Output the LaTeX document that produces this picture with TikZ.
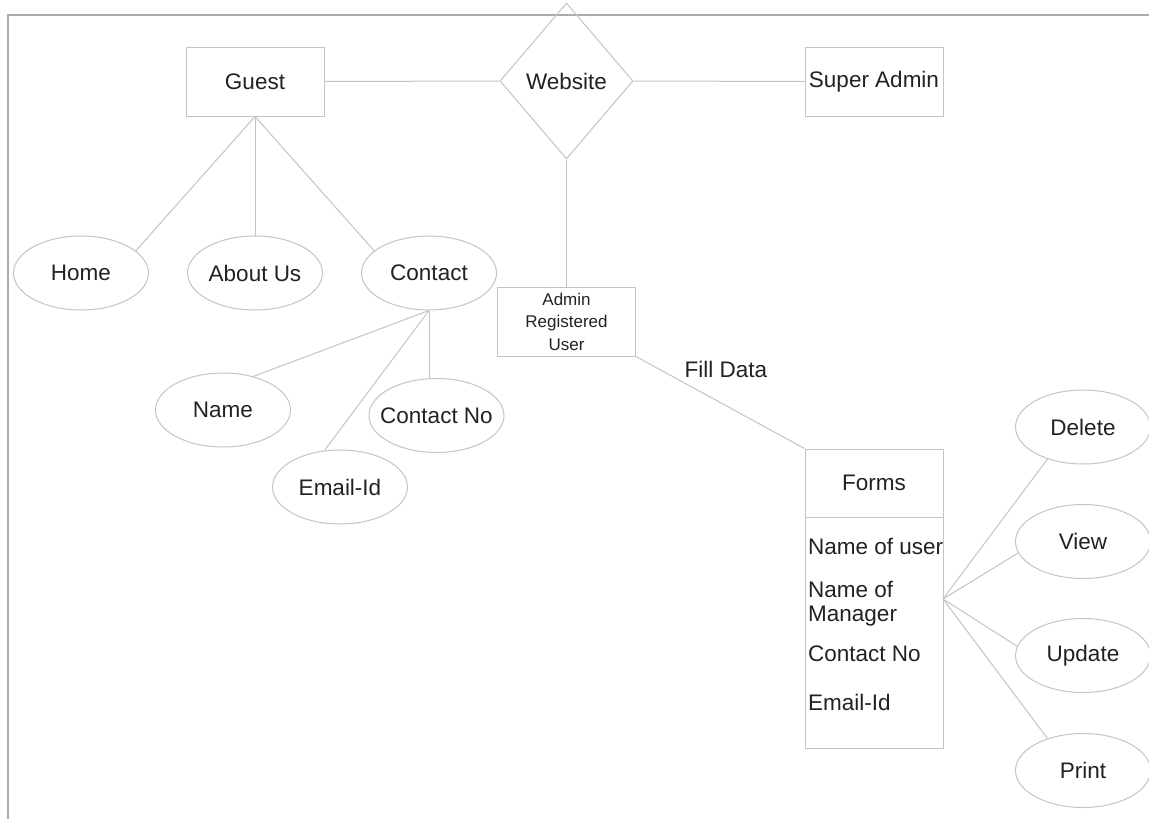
\documentclass[tikz,border=0pt]{standalone}
\usepackage{fontspec}
\setmainfont{Liberation Sans}
\usetikzlibrary{shapes.geometric}
\definecolor{ln}{HTML}{C4C4C4}
\definecolor{frame}{HTML}{ABABAB}
\definecolor{tx}{HTML}{222222}
\begin{document}
\begin{tikzpicture}[x=1pt,y=-1pt,
 every node/.style={text=tx, font=\fontsize{22.5}{27}\selectfont},
 ent/.style={draw=ln, line width=1pt, rectangle, minimum width=138pt, minimum height=69pt, inner sep=0pt},
 attrib/.style={draw=ln, line width=1pt, ellipse, minimum width=135pt, minimum height=74pt, inner sep=0pt},
 rel/.style={draw=ln, line width=1pt, diamond, minimum width=133pt, minimum height=156pt, inner sep=0pt},
 conn/.style={draw=ln, line width=1pt},
 plain/.style={inner sep=0pt}]
\useasboundingbox (0,0) rectangle (1149,819);
\fill[white] (0,0) rectangle (1149,819);
\draw[frame, line width=1.5pt] (1149,15) -- (8,15) -- (8,819);

\node[ent] (guest) at (255,81.5) {Guest};
\node[rel] (web) at (566.5,81) {Website};
\node[ent] (sadmin) at (874,81.5) {Super Admin};

\node[attrib] (home) at (81,273) {Home};
\node[attrib] (about) at (255,273) {About Us};
\node[attrib] (contact) at (429,273) {Contact};
\node[attrib] (name) at (223,410) {Name};
\node[attrib, inner xsep=-9pt] (cno) at (436.5,415.5) {Contact No};
\node[attrib] (email) at (340,487) {Email-Id};

\node[ent, align=center, font=\fontsize{17}{22.5}\selectfont] (admin) at (566.5,321.5) {Admin\\Registered\\User};
\node[plain] (fill) at (726,369) {Fill Data};

\node[ent, minimum height=68pt] (forms) at (874,483) {Forms};
\node[ent, minimum height=231pt] (fattr) at (874,632.5) {};
\node[plain, anchor=west] (a1) at (808,546) {Name of user};
\node[plain, anchor=west, align=left, font=\fontsize{22.5}{24}\selectfont] (a2) at (808,604) {Name of\\Manager};
\node[plain, anchor=west] (a3) at (808,654) {Contact No};
\node[plain, anchor=west] (a4) at (808,702) {Email-Id};

\node[attrib] (del) at (1083,427) {Delete};
\node[attrib] (view) at (1083,541.5) {View};
\node[attrib] (upd) at (1083,655.5) {Update};
\node[attrib] (prt) at (1083,770.5) {Print};

\coordinate (hub) at (943,599);

\draw[conn] (guest.east) -- (web.west);
\draw[conn] (web.east) -- (sadmin.west);
\draw[conn] (web.south) -- (admin.north);
\draw[conn] (guest.south) -- (home.22);
\draw[conn] (guest.south) -- (about.north);
\draw[conn] (guest.south) -- (contact.158);
\draw[conn] (contact.south) -- (name.48);
\draw[conn] (contact.south) -- (email.113);
\draw[conn] (contact.south) -- (contact.south |- cno.north);
\draw[conn] (admin.south east) -- (forms.north west);
\draw[conn] (hub) -- (del.222);
\draw[conn] (hub) -- (view.190);
\draw[conn] (hub) -- (upd.172);
\draw[conn] (hub) -- (prt.138);
\end{tikzpicture}
\end{document}
